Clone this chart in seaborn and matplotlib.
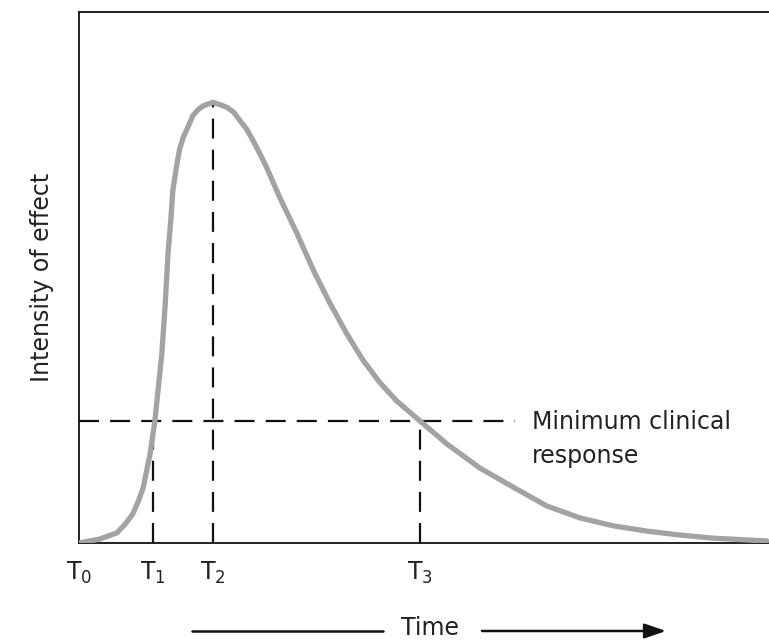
import numpy as np
import pandas as pd
import matplotlib
matplotlib.use('Agg')
import matplotlib.pyplot as plt
import seaborn as sns

# Curve (time in arbitrary units, intensity 0-100 at peak)
time = [0.0, 3.0, 5.5, 6.7, 7.8, 8.6, 9.3, 10.3, 11.0, 12.0, 12.5, 12.9,
        13.3, 13.6, 14.2, 14.6, 15.1, 16.1, 16.5, 17.3, 18.0, 19.4, 20.4,
        21.4, 22.4, 23.3, 24.3, 25.2, 26.2, 27.2, 29.1, 31.6, 34.0, 36.4,
        38.8, 41.2, 43.6, 46.0, 49.4, 53.3, 58.1, 62.9, 67.8, 72.6, 77.4,
        82.3, 87.1, 91.9, 96.8, 99.7]
intensity = [0.0, 0.9, 2.3, 4.3, 6.6, 9.5, 12.5, 20.2, 27.7, 42.9, 54.3, 65.7,
             73.2, 80.0, 86.1, 89.5, 92.0, 95.5, 97.0, 98.4, 99.2, 100.0, 99.5,
             98.9, 97.8, 95.9, 93.9, 91.4, 88.4, 85.2, 78.4, 70.2, 61.8, 54.3,
             47.5, 41.4, 36.4, 32.3, 27.7, 22.5, 17.0, 12.7, 8.4, 5.7, 3.9,
             2.7, 1.8, 1.1, 0.7, 0.45]

t_marks = [0.0, 10.7, 19.4, 49.4]
t_labels = [r'T$_0$', r'T$_1$', r'T$_2$', r'T$_3$']
min_response = 27.7
peak = 100.0

df = pd.DataFrame({'time': time, 'intensity': intensity})

sns.set_style('white')
plt.rcParams['font.family'] = ['DejaVu Sans']
plt.rcParams['mathtext.fontset'] = 'dejavusans'

fig = plt.figure(figsize=(7.69, 6.43), dpi=100)
ax = fig.add_axes([79 / 769, 1 - 543 / 643, 1 - 79 / 769, (543 - 12) / 643])

dash = dict(color='#111111', lw=1.6, dashes=(9, 5))

# dashed guide lines
ax.plot([0, 63.2], [min_response, min_response], **dash)
ax.plot([t_marks[1], t_marks[1]], [0, min_response], **dash)
ax.plot([t_marks[2], t_marks[2]], [0, peak], **dash)
ax.plot([t_marks[3], t_marks[3]], [0, min_response], **dash)

sns.lineplot(data=df, x='time', y='intensity', ax=ax, color='#a3a3a3',
             lw=3.8, solid_capstyle='round', solid_joinstyle='round', zorder=3)

ax.set_xlim(0, 100)
ax.set_ylim(0, 120.5)
ax.set_xticks(t_marks)
ax.set_xticklabels(t_labels, fontsize=17, color='#222222')
ax.set_yticks([])
ax.tick_params(axis='x', length=0, pad=12)
ax.set_xlabel('')
ax.set_ylabel('Intensity of effect', fontsize=17, color='#222222', labelpad=18)

for side in ['left', 'top', 'bottom']:
    ax.spines[side].set_color('#111111')
    ax.spines[side].set_linewidth(1.3)
ax.spines['right'].set_visible(False)

ax.text(65.7, 25.9, 'Minimum clinical', fontsize=17, color='#222222', va='baseline')
ax.text(65.7, 18.2, 'response', fontsize=17, color='#222222', va='baseline')

# Time arrow under the axis
fig.text(430 / 769, 1 - 628 / 643, 'Time', fontsize=17, color='#222222',
         ha='center', va='center')
fig.add_artist(plt.Line2D([192 / 769, 383 / 769], [1 - 631 / 643, 1 - 631 / 643],
                          color='#111111', lw=1.8))
ax.annotate('', xy=(666 / 769, 1 - 631 / 643), xytext=(482 / 769, 1 - 631 / 643),
            xycoords='figure fraction', textcoords='figure fraction',
            arrowprops=dict(arrowstyle='-|>,head_length=1.3,head_width=0.45',
                            color='#111111', lw=1.8, shrinkA=0, shrinkB=0))

fig.savefig('out.png', dpi=100)
